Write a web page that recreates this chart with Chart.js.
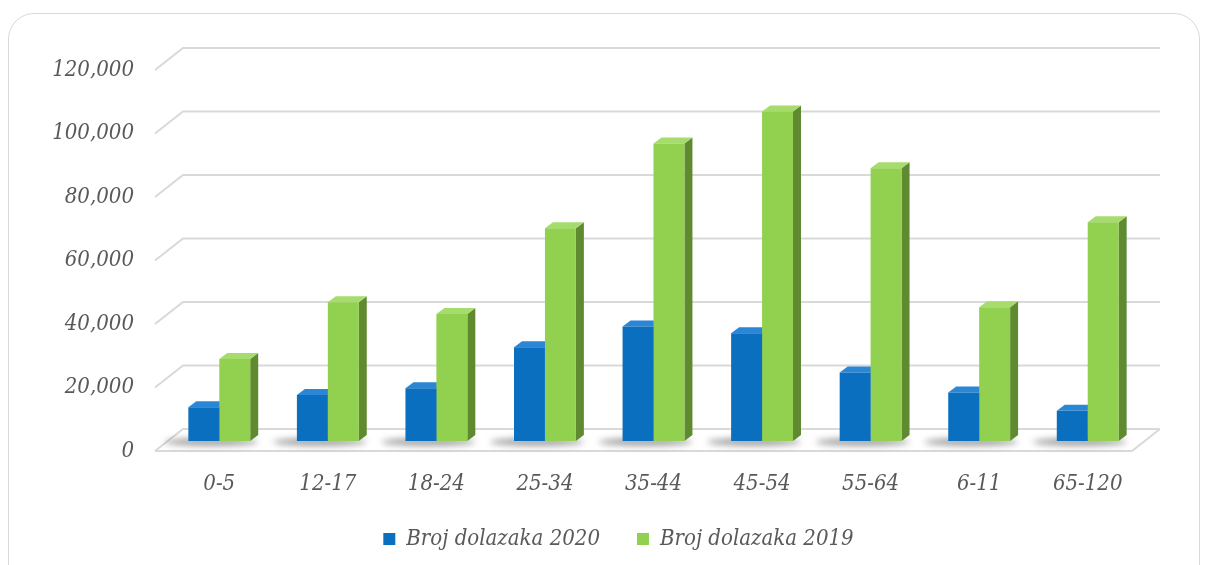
<!DOCTYPE html>
<html>
<head>
<meta charset="utf-8">
<script src="https://cdn.jsdelivr.net/npm/chart.js@4/dist/chart.umd.min.js"></script>
<style>
  html, body { margin: 0; padding: 0; background: #fff; overflow: hidden; }
  #okvir { position: absolute; left: 8px; top: 13px; width: 1190px; height: 620px;
           border: 1.5px solid #d9d9d9; border-radius: 26px; }
  #lienzo { position: absolute; left: 0; top: 0; }
</style>
</head>
<body>
<div id="okvir"></div>
<canvas id="lienzo" width="1205" height="565"></canvas>
<script>
const kategorije = ['0-5', '12-17', '18-24', '25-34', '35-44', '45-54', '55-64', '6-11', '65-120']
const dolasci2020 = [10600, 14500, 16600, 29500, 36100, 33900, 21600, 15300, 9500]
const dolasci2019 = [25800, 43700, 40000, 67000, 93700, 103800, 85900, 42100, 68900]
const oznakeY = [0, 20000, 40000, 60000, 80000, 100000, 120000]

const font = '"DejaVu Serif Condensed", "DejaVu Serif", serif'
const sivo = '#595959'
const linija = '#d9d9d9'

// boje: lice, bok, vrh
const plava = ['#0a6fbe', '#0b4f8c', '#2b86d6']
const zelena = ['#92d050', '#5f8a30', '#a6dc6c']

const dubina = 8, visina3d = 6

// zadnji zid, pod, sjene i oznake osi Y
const zid = {
    id: 'zid',
    afterLayout(chart) {
        // legenda malo lijevo kao u originalu
        chart.legend.left -= 31
        chart.legend.right -= 31
    },
    beforeDatasetsDraw(chart) {
        const ctx = chart.ctx
        const y = chart.scales.y
        const lijevo = 183, desno = 1160, prednji = 155
        ctx.save()
        ctx.strokeStyle = linija
        ctx.lineWidth = 2
        oznakeY.forEach(v => {
            const py = y.getPixelForValue(v) - 12
            ctx.beginPath()
            ctx.moveTo(prednji, py + 22)
            ctx.lineTo(lijevo, py)
            ctx.lineTo(desno, py)
            if (v === 0) {
                ctx.moveTo(prednji, py + 22)
                ctx.lineTo(desno - 28, py + 22)
                ctx.lineTo(desno, py)
            }
            ctx.stroke()
        })
        // oznake
        ctx.fillStyle = sivo
        ctx.font = 'italic 22px ' + font
        ctx.textAlign = 'right'
        ctx.textBaseline = 'middle'
        oznakeY.forEach(v => {
            ctx.fillText(v.toLocaleString('en-US'), 134, y.getPixelForValue(v) + 10)
        })
        // sjene na podu
        const prvi = chart.getDatasetMeta(0).data
        const drugi = chart.getDatasetMeta(1).data
        ctx.filter = 'blur(3px)'
        ctx.fillStyle = 'rgba(90,90,90,0.55)'
        prvi.forEach((b, k) => {
            const l = b.x - b.width / 2
            const d = drugi[k].x + drugi[k].width / 2
            ctx.beginPath()
            ctx.ellipse((l + d) / 2 - 8, b.base + 1, (d - l) / 2 + 16, 4, 0, 0, Math.PI * 2)
            ctx.fill()
        })
        ctx.filter = 'none'
        // bokovi i vrhovi stupaca
        chart.data.datasets.forEach((ds, i) => {
            const boje = i === 0 ? plava : zelena
            chart.getDatasetMeta(i).data.forEach(bar => {
                const l = bar.x - bar.width / 2, d = bar.x + bar.width / 2
                ctx.fillStyle = boje[1]
                ctx.beginPath()
                ctx.moveTo(d, bar.y)
                ctx.lineTo(d + dubina, bar.y - visina3d)
                ctx.lineTo(d + dubina, bar.base - visina3d)
                ctx.lineTo(d, bar.base)
                ctx.closePath()
                ctx.fill()
                ctx.fillStyle = boje[2]
                ctx.beginPath()
                ctx.moveTo(l, bar.y)
                ctx.lineTo(l + dubina, bar.y - visina3d)
                ctx.lineTo(d + dubina, bar.y - visina3d)
                ctx.lineTo(d, bar.y)
                ctx.closePath()
                ctx.fill()
            })
        })
        ctx.restore()
    }
}

new Chart(document.getElementById('lienzo'), {
    type: 'bar',
    data: {
        labels: kategorije,
        datasets: [{
            label: 'Broj dolazaka 2020',
            data: dolasci2020,
            backgroundColor: plava[0]
        }, {
            label: 'Broj dolazaka 2019',
            data: dolasci2019,
            backgroundColor: zelena[0]
        }]
    },
    options: {
        responsive: false,
        animation: false,
        layout: { padding: { left: 157, right: 63, top: 60, bottom: 5 } },
        datasets: { bar: { categoryPercentage: 0.57, barPercentage: 1 } },
        scales: {
            x: {
                grid: { display: false, drawTicks: false },
                border: { display: false },
                ticks: {
                    color: sivo,
                    padding: 30,
                    maxRotation: 0,
                    autoSkip: false,
                    font: { family: font, size: 22, style: 'italic' }
                },
                afterFit(scale) { scale.height = 50 }
            },
            y: {
                min: 0, max: 120000,
                ticks: { display: false, stepSize: 20000 },
                grid: { display: false },
                border: { display: false }
            }
        },
        plugins: {
            legend: {
                position: 'bottom',
                labels: {
                    color: sivo,
                    boxWidth: 12,
                    boxHeight: 12,
                    padding: 37,
                    font: { family: font, size: 22, style: 'italic' }
                }
            },
            tooltip: { enabled: false }
        }
    },
    plugins: [zid]
})
</script>
</body>
</html>
